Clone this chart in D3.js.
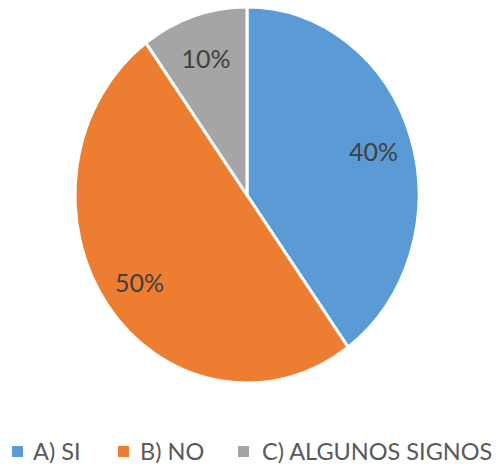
<!DOCTYPE html>
<html>
<head>
<meta charset="utf-8">
<script src="https://cdn.jsdelivr.net/npm/d3@7"></script>
<style>
  body { margin: 0; background: #ffffff; }
  svg { display: block; }
</style>
</head>
<body>
<div id="chart"></div>
<script>
const categories = ["A) SI", "B) NO", "C) ALGUNOS SIGNOS"];
const values = [40, 50, 10];
const colors = ["#5B9BD5", "#ED7D31", "#A5A5A5"];

const width = 498;
const height = 466;

// the pie in the picture is a little taller than wide
const cx = 247, cy = 195;
const rx = 172, ry = 188;

const svg = d3.select("#chart")
    .append("svg")
    .attr("width", width)
    .attr("height", height);

const data = categories.map((c, i) => ({ name: c, value: values[i] }));

const pie = d3.pie()
    .value(d => d.value)
    .sort(null);

const arc = d3.arc().innerRadius(0).outerRadius(rx);
const labelArc = d3.arc().innerRadius(133).outerRadius(133);

const arcs = pie(data);

const g = svg.append("g")
    .attr("transform", `translate(${cx},${cy}) scale(1,${ry / rx})`);

g.selectAll("path")
    .data(arcs)
    .enter().append("path")
    .attr("d", arc)
    .attr("fill", (d, i) => colors[i])
    .attr("stroke", "#ffffff")
    .attr("stroke-width", 3)
    .attr("vector-effect", "non-scaling-stroke");

// labels, placed in unscaled space
svg.append("g")
    .selectAll("text")
    .data(arcs)
    .enter().append("text")
    .attr("x", d => cx + labelArc.centroid(d)[0])
    .attr("y", d => cy + labelArc.centroid(d)[1] * ry / rx)
    .attr("text-anchor", "middle")
    .attr("dy", "0.45em")
    .style("font-family", "Lato, sans-serif")
    .style("font-size", "25px")
    .style("fill", "#404040")
    .text(d => d.data.value + "%");

// legend
const legendX = [12, 118, 238];
const legendTextX = [33, 140, 262];
const legend = svg.append("g")
    .selectAll("g")
    .data(data)
    .enter().append("g");

legend.append("rect")
    .attr("x", (d, i) => legendX[i])
    .attr("y", 446)
    .attr("width", 11)
    .attr("height", 11)
    .attr("fill", (d, i) => colors[i]);

legend.append("text")
    .attr("x", (d, i) => legendTextX[i])
    .attr("y", 460)
    .style("font-family", "Lato, sans-serif")
    .style("font-size", "23.5px")
    .style("fill", "#595959")
    .text(d => d.name);
</script>
</body>
</html>
